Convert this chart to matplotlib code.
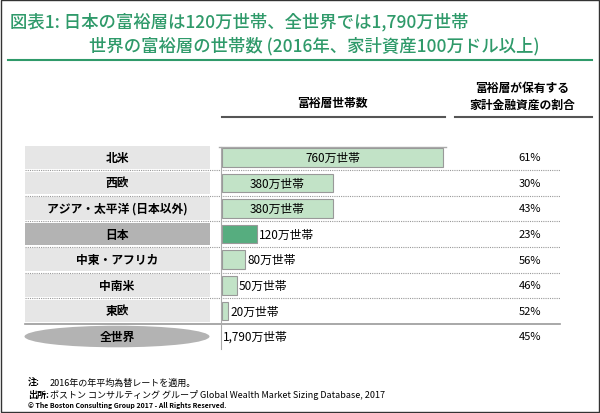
import matplotlib
matplotlib.use("Agg")
import matplotlib.pyplot as plt
from matplotlib.patches import Rectangle, Ellipse

plt.rcParams["font.family"] = "Noto Sans CJK JP"

categories = ["北米", "西欧", "アジア・太平洋 (日本以外)", "日本", "中東・アフリカ", "中南米", "東欧", "全世界"]
households = [760, 380, 380, 120, 80, 50, 20]
labels = ["760万世帯", "380万世帯", "380万世帯", "120万世帯", "80万世帯", "50万世帯", "20万世帯", "1,790万世帯"]
shares = ["61%", "30%", "43%", "23%", "56%", "46%", "52%", "45%"]

W, H = 600, 414
fig = plt.figure(figsize=(6, 4.14), dpi=100)
bg = fig.add_axes([0, 0, 1, 1])
bg.set_xlim(0, W); bg.set_ylim(H, 0); bg.axis("off")

green = "#2f9a6a"
bg.add_patch(Rectangle((1, 1), W - 2, H - 2, fill=False, ec="#333333", lw=1))
bg.text(10, 22, "図表1: 日本の富裕層は120万世帯、全世界では1,790万世帯", color=green, fontsize=12.5, va="center", weight="medium")
bg.text(89, 46, "世界の富裕層の世帯数 (2016年、家計資産100万ドル以上)", color=green, fontsize=12.5, va="center", weight="medium")
bg.plot([8, 592], [61, 61], color=green, lw=1.5)

bg.text(332, 104, "富裕層世帯数", fontsize=8.5, ha="center", va="center", weight="bold")
bg.plot([222, 445], [118, 118], color="#555555", lw=1.5)
bg.text(522, 88, "富裕層が保有する", fontsize=8.5, ha="center", va="center", weight="bold")
bg.text(522, 105, "家計金融資産の割合", fontsize=8.5, ha="center", va="center", weight="bold")
bg.plot([455, 592], [118, 118], color="#555555", lw=1.5)

top, step = 145.5, 25.6
for i, cat in enumerate(categories):
    yc = top + step * (i + 0.5)
    if i < 7:
        col = "#b3b3b3" if cat == "日本" else "#e6e6e6"
        bg.add_patch(Rectangle((25, yc - step / 2 + 1.5), 185, step - 3, color=col, lw=0))
        if i < 6:
            bg.plot([25, 560], [yc + step / 2, yc + step / 2], color="#999999", lw=0.8, ls=(0, (1, 1)))
    else:
        bg.add_patch(Ellipse((117, yc), 185, step - 4, color="#b3b3b3", lw=0))
    bg.text(117, yc, cat, fontsize=8.5, ha="center", va="center", weight="bold")
    bg.text(530, yc, shares[i], fontsize=8, ha="center", va="center")
bg.plot([25, 560], [top + step * 7, top + step * 7], color="#999999", lw=1.2)
bg.plot([219, 446], [148, 148], color="#aaaaaa", lw=1)

ax = fig.add_axes([222 / W, 1 - (top + step * 8) / H, 221 / W, step * 8 / H])
ax.set_xlim(0, 760); ax.set_ylim(7.5, -0.5)
ax.axis("off")
colors = ["#c2e3c7"] * 7
colors[3] = "#56ad7f"
ax.barh(range(7), households, height=0.72, color=colors, edgecolor="#999999", lw=0.8, clip_on=False)
ax.plot([-3, -3], [-0.4, 7.5], color="#aaaaaa", lw=0.8, clip_on=False)
for i, v in enumerate(households):
    if v >= 300:
        ax.text(v / 2, i, labels[i], fontsize=8.5, ha="center", va="center")
    else:
        ax.text(v + 8, i, labels[i], fontsize=8.5, ha="left", va="center")
ax.text(115, 7, labels[7], fontsize=8.5, ha="center", va="center")

bg.text(28, 383, "注:", fontsize=6.5, weight="bold", va="center")
bg.text(50, 383, "2016年の年平均為替レートを適用。", fontsize=6.5, va="center")
bg.text(28, 395, "出所:", fontsize=6.5, weight="bold", va="center")
bg.text(50, 395, "ボストン コンサルティング グループ Global Wealth Market Sizing Database, 2017", fontsize=6.5, va="center")
bg.text(28, 406, "© The Boston Consulting Group 2017 - All Rights Reserved.", fontsize=5, weight="bold", va="center")

fig.savefig("out.png", dpi=100)
